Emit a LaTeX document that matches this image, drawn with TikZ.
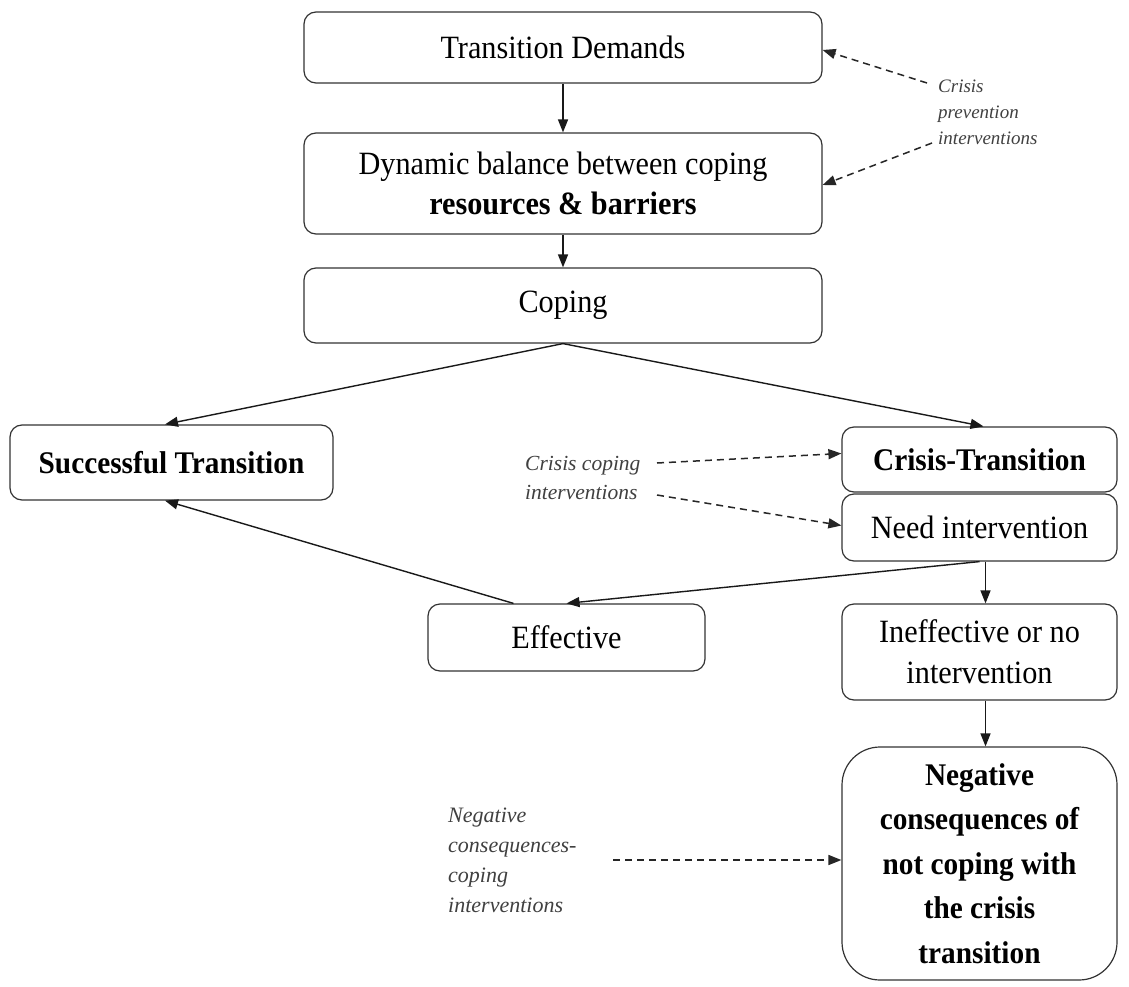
\documentclass[tikz,border=0pt]{standalone}
\usepackage{fontspec}
\setmainfont{Liberation Serif}[FakeStretch=0.93]
\newfontfamily\lblfont{Liberation Serif}
\usetikzlibrary{arrows.meta}
\tikzset{
  box/.style={draw=black!80, line width=1.2pt, rounded corners=12pt, align=center,
    inner sep=0pt, fill=white, font=\fontsize{32.5}{40}\selectfont},
  bbox/.style={box, font=\bfseries\fontsize{31.5}{40}\selectfont},
  arr/.style={-{Triangle[length=13pt,width=10pt]}, line width=1.4pt, draw=black!90},
  darr/.style={arr, dash pattern=on 7pt off 5pt, line width=1.5pt, draw=black!85},
  lbl/.style={align=left, inner sep=0pt, text=black!75, anchor=west}
}
\begin{document}
\begin{tikzpicture}[x=1pt,y=-1pt]
\useasboundingbox (0,0) rectangle (1129,987);
\fill[white] (0,0) rectangle (1129,987);
% boxes
\node[box, minimum width=518pt, minimum height=71pt] (td) at (563,47.5) {Transition Demands};
\node[box, minimum width=518pt, minimum height=101pt] (db) at (563,183.5)
  {Dynamic balance between coping\\\textbf{resources \& barriers}};
\node[box, minimum width=518pt, minimum height=75pt] (cop) at (563,305.5) {Coping};
\node[bbox, minimum width=323pt, minimum height=75pt] (succ) at (171.5,462.5) {Successful Transition};
\node[bbox, minimum width=275pt, minimum height=65pt] (ct) at (979.5,459.5) {Crisis-Transition};
\node[box, minimum width=275pt, minimum height=67pt] (need) at (979.5,527.5) {Need intervention};
\node[box, minimum width=277pt, minimum height=67pt] (eff) at (566.5,637.5) {Effective};
\node[box, minimum width=275pt, minimum height=96pt, font=\fontsize{32.5}{41}\selectfont] (ineff) at (979.5,652)
  {Ineffective or no\\intervention};
\node[box, minimum width=275pt, minimum height=233pt, rounded corners=38pt,
  font=\bfseries\fontsize{31.5}{44.5}\selectfont] (neg) at (979.5,863.5)
  {Negative\\consequences of\\not coping with\\the crisis\\transition};
% labels
\node[lbl, font=\lblfont\itshape\fontsize{19}{26}\selectfont] (cpi) at (938,112) {Crisis\\prevention\\interventions};
\node[lbl, font=\lblfont\itshape\fontsize{21.5}{29}\selectfont] (cci) at (525,477.5) {Crisis coping\\interventions};
\node[lbl, font=\lblfont\itshape\fontsize{22}{30}\selectfont] (nci) at (448,860) {Negative\\consequences-\\coping\\interventions};
% connector start points
\coordinate (p1) at (927,83);
\coordinate (p2) at (932,143);
\coordinate (c1) at (657,463);
\coordinate (c2) at (657,495);
\coordinate (n1) at (613,860);
% solid arrows
\draw[arr] (td.south) -- (db.north);
\draw[arr] (db.south) -- (cop.north);
\draw[arr] (cop.south) -- ([xshift=-6.5pt]succ.north);
\draw[arr] (cop.south) -- ([xshift=4pt]ct.north);
\draw[arr] (need.south) -- (eff.north);
\draw[arr] ([xshift=6pt]need.south) -- ([xshift=6pt]ineff.north);
\draw[arr] ([xshift=-53pt]eff.north) -- ([xshift=-6.5pt]succ.south);
\draw[arr] ([xshift=6pt]ineff.south) -- ([xshift=6pt]neg.north);
% dashed arrows
\draw[darr] (p1) -- ([yshift=-2.5pt]td.east);
\draw[darr] (p2) -- ([yshift=-1.5pt]db.east);
\draw[darr] (c1) -- ([yshift=6pt]ct.west);
\draw[darr] (c2) -- ([yshift=2pt]need.west);
\draw[darr] (n1) -- ([yshift=3.5pt]neg.west);
\end{tikzpicture}
\end{document}
